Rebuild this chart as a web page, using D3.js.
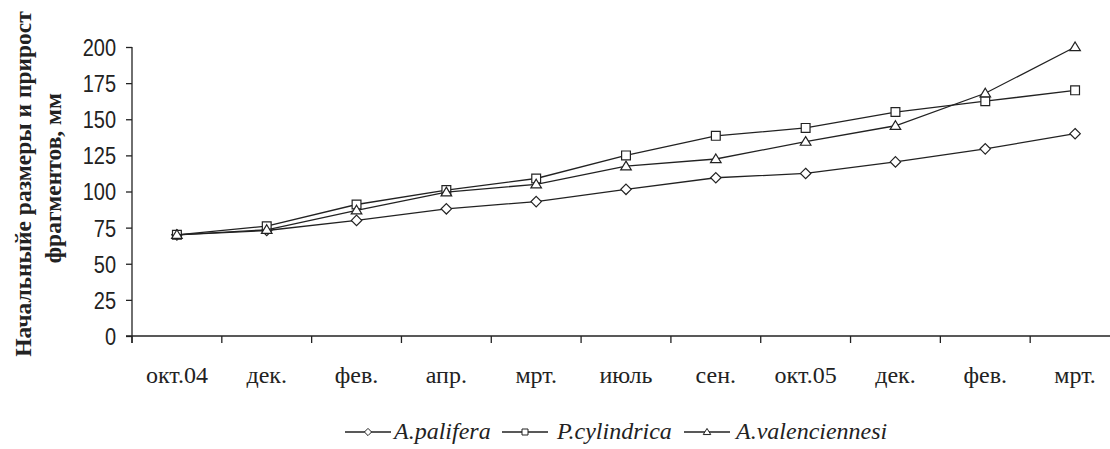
<!DOCTYPE html>
<html>
<head>
<meta charset="utf-8">
<script src="https://cdn.jsdelivr.net/npm/d3@7/dist/d3.min.js"></script>
<style>
  html, body { margin: 0; padding: 0; background: #fff; }
  svg { display: block; }
  .serif { font-family: "Liberation Serif", "Times New Roman", "DejaVu Serif", serif; }
  .sans { font-family: "Liberation Sans", Arial, sans-serif; }
</style>
</head>
<body>
<script>
// Sampling months (two seasons of growth measurements)
const months = ["окт.04", "дек.", "фев.", "апр.", "мрт.", "июль", "сен.", "окт.05", "дек.", "фев.", "мрт."];

// Fragment size, mm
const paliferaValues      = [70, 73, 80, 88, 93, 101.5, 109.5, 112.5, 120.5, 129.5, 140];
const cylindricaValues    = [70, 76, 91, 101, 109, 125, 138.5, 144, 155, 162.5, 170];
const valenciennesiValues = [70, 73.5, 87, 99.5, 105, 117.5, 122.5, 134.5, 145.5, 168, 200];

const seriesNames = ["A.palifera", "P.cylindrica", "A.valenciennesi"];

const yTicks = [0, 25, 50, 75, 100, 125, 150, 175, 200];

// Marker outlines, centred on the data point; r is the half-size in px
const markerPath = {
  diamond: r => `M0,${-r}L${r},0L0,${r}L${-r},0Z`,
  square: r => `M${-r},${-r}H${r}V${r}H${-r}Z`,
  triangle: r => `M0,${-r * 1.05}L${r * 1.1},${r * 0.75}H${-r * 1.1}Z`
};
const seriesMarkers = ["diamond", "square", "triangle"];

const W = 1110, H = 449;
const svg = d3.select("body").append("svg").attr("width", W).attr("height", H);

const plotLeft = 132, plotRight = 1120, plotTop = 47, plotBottom = 336;

const x = d3.scaleBand().domain(d3.range(months.length)).range([plotLeft, plotRight]).padding(0);
const y = d3.scaleLinear().domain([0, 200]).range([plotBottom, plotTop]);
const cx = i => x(i) + x.bandwidth() / 2;

const ink = "#222";

// Y axis
const yAxis = svg.append("g").attr("transform", `translate(${plotLeft},0)`)
  .call(d3.axisLeft(y).tickValues(yTicks).tickSize(6));
yAxis.attr("font-family", null).attr("font-size", null);
yAxis.select(".domain").attr("stroke", ink).attr("stroke-width", 1.3)
  .attr("d", `M0,${plotTop}V${plotBottom + 7}`);
yAxis.selectAll(".tick line").attr("stroke", ink).attr("stroke-width", 1.3);
yAxis.selectAll(".tick text")
  .attr("class", "sans")
  .attr("fill", ink)
  .attr("font-size", 20)
  .attr("x", -16)
  .attr("y", 0)
  .attr("dy", "0.35em")
  .attr("transform", "scale(1,1.2)");

// X axis with ticks at category boundaries
const boundaries = d3.range(months.length + 1).map(i => plotLeft + i * x.bandwidth());
const xg = svg.append("g");
xg.append("line").attr("x1", plotLeft - 6).attr("x2", plotRight).attr("y1", plotBottom).attr("y2", plotBottom)
  .attr("stroke", ink).attr("stroke-width", 1.3);
xg.selectAll("line.tk").data(boundaries).join("line").attr("class", "tk")
  .attr("x1", d => d).attr("x2", d => d).attr("y1", plotBottom).attr("y2", plotBottom + 7)
  .attr("stroke", ink).attr("stroke-width", 1.3);
xg.selectAll("text").data(months).join("text")
  .attr("class", "serif")
  .attr("x", (d, i) => cx(i))
  .attr("y", 383)
  .attr("text-anchor", "middle")
  .attr("font-size", 24)
  .attr("fill", ink)
  .text(d => d);

// Y axis title (two lines, rotated)
const titleLines = [
  { text: "Начальныйе размеры и прирост", bx: 31, cy: 184 },
  { text: "фрагментов, мм", bx: 61, cy: 178 }
];
svg.selectAll("text.ytitle").data(titleLines).join("text")
  .attr("class", "ytitle serif")
  .attr("transform", d => `translate(${d.bx},${d.cy}) rotate(-90)`)
  .attr("text-anchor", "middle")
  .attr("font-weight", "bold")
  .attr("font-size", 23.5)
  .attr("fill", ink)
  .text(d => d.text);

// Series lines and markers
const seriesData = [paliferaValues, cylindricaValues, valenciennesiValues];
const line = d3.line().x((d, i) => cx(i)).y(d => y(d));
const markerR = [5.2, 4.4, 4.8];

seriesData.forEach((vals, s) => {
  const g = svg.append("g");
  g.append("path").datum(vals).attr("d", line)
    .attr("fill", "none").attr("stroke", ink).attr("stroke-width", 1.3);
  g.selectAll("path.m").data(vals).join("path").attr("class", "m")
    .attr("transform", (d, i) => `translate(${cx(i)},${y(d)})`)
    .attr("d", markerPath[seriesMarkers[s]](markerR[s]))
    .attr("fill", "#fff").attr("stroke", ink).attr("stroke-width", 1.2);
});

// Legend
const legendItems = [
  { name: seriesNames[0], m: seriesMarkers[0], x0: 345, tx: 394, r: 3.6 },
  { name: seriesNames[1], m: seriesMarkers[1], x0: 502, tx: 557, r: 3 },
  { name: seriesNames[2], m: seriesMarkers[2], x0: 684, tx: 736, r: 3.4 }
];
const lg = svg.append("g");
const ly = 432;
legendItems.forEach(it => {
  lg.append("line").attr("x1", it.x0).attr("x2", it.x0 + 46).attr("y1", ly).attr("y2", ly)
    .attr("stroke", ink).attr("stroke-width", 1.3);
  lg.append("path").attr("transform", `translate(${it.x0 + 23},${ly})`)
    .attr("d", markerPath[it.m](it.r))
    .attr("fill", "#fff").attr("stroke", ink).attr("stroke-width", 1);
  lg.append("text").attr("class", "serif").attr("x", it.tx).attr("y", 439)
    .attr("font-style", "italic").attr("font-size", 24).attr("fill", ink)
    .text(it.name);
});
</script>
</body>
</html>
